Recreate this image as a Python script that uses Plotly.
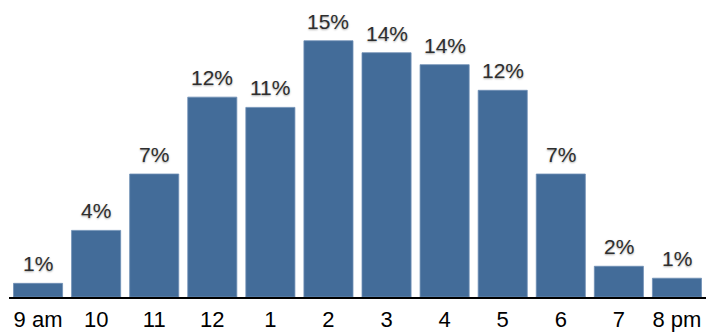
import plotly.graph_objects as go

# Share of activity by hour of day (percent)
hours = ["9 am", "10", "11", "12", "1", "2", "3", "4", "5", "6", "7", "8 pm"]
share = [0.8, 3.9, 7.2, 11.7, 11.1, 15.0, 14.3, 13.6, 12.1, 7.2, 1.8, 1.1]

bar_color = "#436c99"
font_family = "Liberation Sans, Arial, sans-serif"

fig = go.Figure(
    go.Bar(
        x=hours,
        y=share,
        marker=dict(color=bar_color, line=dict(color="#6f8fb5", width=0.8)),
        hoverinfo="x+y",
    )
)

# Percentage labels above each bar, from the same values as the bars
# (category axis: annotations are placed by category index)
for i, v in enumerate(share):
    fig.add_annotation(
        x=i,
        y=v,
        text=f"{v:.0f}%",
        showarrow=False,
        yanchor="bottom",
        yshift=6,
        font=dict(family=font_family, size=21, color="#2e2e2e",
                  shadow="0px 1px 2px rgba(0,0,0,0.35)"),
    )

fig.update_layout(
    width=714,
    height=332,
    margin=dict(l=9, r=8, t=10, b=35, autoexpand=False),
    paper_bgcolor="white",
    plot_bgcolor="white",
    bargap=0.155,
    showlegend=False,
)

fig.update_xaxes(
    type="category",
    automargin=False,
    showline=True,
    linecolor="black",
    linewidth=1.5,
    ticks="",
    ticklabelstandoff=2,
    showgrid=False,
    tickfont=dict(family=font_family, size=22, color="black"),
)
fig.update_yaxes(
    range=[0, 16.8],
    visible=False,
    showgrid=False,
    zeroline=False,
)

fig.write_html("out.html")
